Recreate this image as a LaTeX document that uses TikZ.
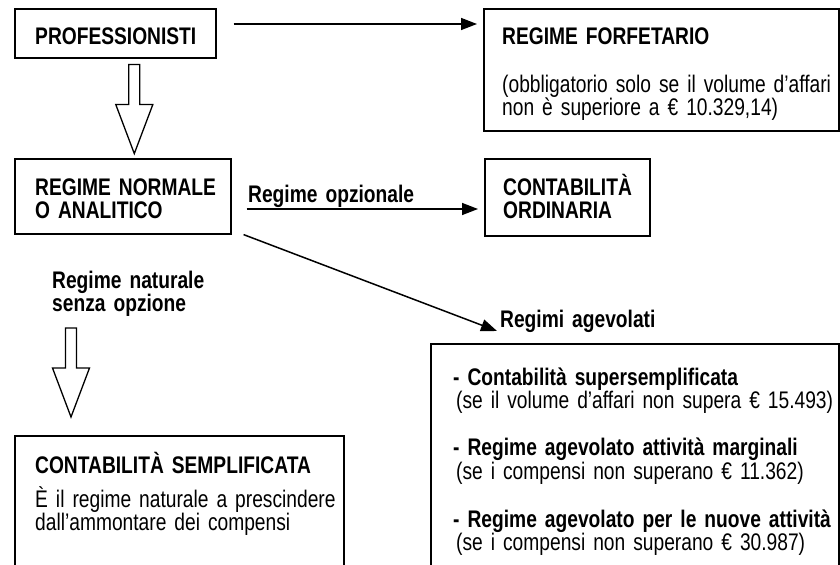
\documentclass[tikz,border=0pt]{standalone}
\usepackage{fontspec}
\setmainfont{Liberation Sans}[FakeStretch=0.8]
\usetikzlibrary{arrows.meta}
\newcommand\narrowspace{\spaceskip=3.6bp plus 1bp minus 0.5bp}
\tikzset{
  box/.style={draw,line width=1.6bp,anchor=north west,inner sep=0pt},
  txt/.style={anchor=base west,inner sep=0pt,align=left,text width=400bp,
    font=\fontsize{24bp}{23bp}\selectfont\narrowspace},
  tight/.style={font=\fontsize{24bp}{21bp}\selectfont\narrowspace},
  caps/.style={font=\fontsize{24bp}{22.5bp}\selectfont\narrowspace},
  arr/.style={line width=1.5bp,-{Triangle[length=16bp,width=12bp]}},
  hollow/.style={line width=1.3bp,line join=miter}
}
\begin{document}
\begin{tikzpicture}[x=1bp,y=-1bp]
\useasboundingbox (0,0) rectangle (840,565);
\clip (0,0) rectangle (840,565);
% boxes
\node[box,minimum width=201bp,minimum height=49bp] (prof) at (14,8) {};
\node[box,minimum width=355bp,minimum height=122bp] (forf) at (483,8) {};
\node[box,minimum width=216bp,minimum height=75bp] (normale) at (14,158) {};
\node[box,minimum width=165bp,minimum height=77bp] (ordin) at (484,158) {};
\node[box,minimum width=329bp,minimum height=200bp] (sempl) at (14,435) {};
\node[box,minimum width=408bp,minimum height=300bp] (agev) at (430,343) {};
% texts
\node[txt] (prof-t) at (35,45) {\textbf{PROFESSIONISTI}};
\node[txt] (forf-t) at (502,45) {\textbf{REGIME FORFETARIO}\\[25bp]
  (obbligatorio solo se il volume d'affari\\non è superiore a € 10.329,14)};
\node[txt,caps] (normale-t) at (35,196) {\textbf{REGIME NORMALE\\O ANALITICO}};
\node[txt,caps] (ordin-t) at (503,196) {\textbf{CONTABILITÀ\\ORDINARIA}};
\node[txt] (sempl-t) at (35,473) {\textbf{CONTABILITÀ SEMPLIFICATA}\\[11bp]
  È il regime naturale a prescindere\\dall'ammontare dei compensi};
\node[txt,tight] (agev-t) at (453,385) {\textbf{- Contabilità supersemplificata}\\
  \hspace*{3bp}(se il volume d'affari non supera € 15.493)\\[24bp]
  \textbf{- Regime agevolato attività marginali}\\
  \hspace*{3bp}(se i compensi non superano € 11.362)\\[24bp]
  \textbf{- Regime agevolato per le nuove attività}\\
  \hspace*{3bp}(se i compensi non superano € 30.987)};
% labels
\node[txt] (opz) at (248,203) {\textbf{Regime opzionale}};
\node[txt,tight] (nat) at (52,288) {\textbf{Regime naturale\\senza opzione}};
\node[txt] (agevl) at (500,327) {\textbf{Regimi agevolati}};
% connectors
\draw[arr] ([xshift=17bp,yshift=-16bp]prof.north east) -- ([xshift=-6bp,yshift=-16bp]forf.north west);
\draw[arr] ([xshift=15bp,yshift=-51bp]normale.north east) -- ([xshift=-6bp,yshift=-51bp]ordin.north west);
\draw[arr] ([xshift=12bp]normale.south east) -- ([xshift=-3bp,yshift=-4bp]agevl.base west);
% hollow arrows
\coordinate (h1) at ([xshift=19bp,yshift=-6bp]prof.south);
\coordinate (h2) at ([xshift=19bp,yshift=-40bp]nat.base west);
\draw[hollow] (h1) ++(-5.5,0) -- ++(0,40) -- ++(-13,0) -- ++(18.5,49) -- ++(18.5,-49) -- ++(-13,0) -- ++(0,-40) -- cycle;
\draw[hollow] (h2) ++(-5.5,0) -- ++(0,40) -- ++(-13,0) -- ++(18.5,49) -- ++(18.5,-49) -- ++(-13,0) -- ++(0,-40) -- cycle;
\end{tikzpicture}
\end{document}
